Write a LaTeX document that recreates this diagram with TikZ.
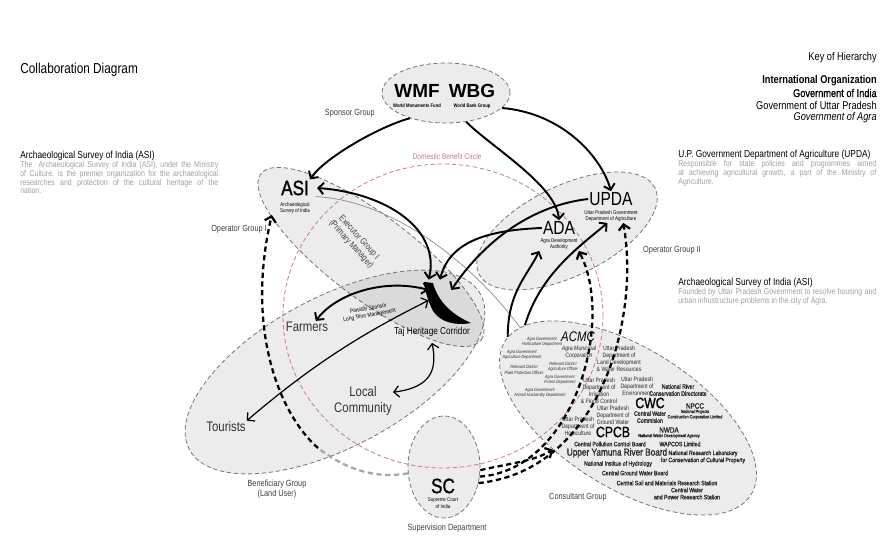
\documentclass[tikz,border=0pt]{standalone}
\usepackage{fontspec}
\setmainfont[FakeStretch=0.82]{Liberation Sans}
\newfontfamily\medfont[FakeStretch=0.82,FakeBold=1.2]{Liberation Sans}
\newfontfamily\plainfont{Liberation Sans}
\usepackage{xcolor}
\usetikzlibrary{shapes.geometric, arrows.meta, positioning, calc}

\definecolor{pinkline}{RGB}{200,120,145}
\definecolor{desctext}{RGB}{160,160,160}
\definecolor{grpline}{RGB}{115,115,115}

\begin{document}
\begin{tikzpicture}[
    x=0.02cm, y=-0.02cm,
    >={Straight Barb[length=3pt,width=6.5pt]},
    grp/.style={ellipse, draw=grpline, dash pattern=on 2.5pt off 1.5pt, line width=0.45pt, fill=black, fill opacity=0.075, inner sep=0},
    arr/.style={->, line width=1.1pt},
    thinarr/.style={<->, line width=0.7pt},
    darr/.style={->, line width=1.3pt, dash pattern=on 3pt off 2pt},
    fadeline/.style={line width=1.3pt, dash pattern=on 3pt off 2pt, black!35},
    thinline/.style={line width=0.4pt, black!45},
    big/.style={font=\fontsize{10.8}{11}\selectfont, inner sep=0.5pt},
    sub/.style={font=\fontsize{3.1}{3.6}\selectfont, align=center, inner sep=0.5pt},
    lbl/.style={font=\fontsize{5.1}{5.9}\selectfont, text=black!75, align=center},
    head/.style={anchor=west, font=\fontsize{5.8}{6.2}\selectfont, inner sep=0},
    desc/.style={anchor=north west, text width=3.96cm, align=justify, font=\fontsize{4.85}{5}\selectfont, text=desctext, inner sep=0},
    small/.style={font=\fontsize{3.6}{4}\selectfont, align=center, inner sep=0.3pt, text=black!85},
    agra/.style={font=\itshape\fontsize{2.6}{3}\selectfont, align=center, inner sep=0.3pt, text=black!85},
    keytxt/.style={anchor=east, font=\fontsize{6.4}{7}\selectfont, inner sep=0}
]
\useasboundingbox (0,0) rectangle (894,547);

% Groups
\node[grp, minimum width=2.56cm, minimum height=1.2cm] (spon) at (446,93) {};
\node[grp, minimum width=5.52cm, minimum height=1.68cm, rotate=-37] (exe) at (371,257) {};
\node[grp, minimum width=3.92cm, minimum height=1.8cm, rotate=26] (ope) at (567,231) {};
\node[grp, minimum width=6.6cm, minimum height=3cm, rotate=28] (ben) at (335,372) {};
\node[grp, minimum width=5.8cm, minimum height=2.8cm, rotate=-32] (cons) at (628,418) {};
\node[grp, minimum width=1.44cm, minimum height=2.04cm] (scg) at (444,467) {};

% Domestic Benefit Circle
\node[ellipse, draw=pinkline, dash pattern=on 2.5pt off 1.5pt, line width=0.45pt, minimum width=6.4cm, minimum height=6.08cm, inner sep=0] (dbc) at (443,316) {};
\node[font=\fontsize{4.6}{5}\selectfont, text=pinkline] (dbclbl) at (447,157) {Domestic Benefit Circle};

% Titles and descriptions
\node[anchor=west, font=\fontsize{8.2}{9}\selectfont, inner sep=0] (title) at (20,70) {Collaboration Diagram};
\node[head] (asihead) at (20,156) {Archaeological Survey of India (ASI)};
\node[desc] (asidesc) at (20,161) {The \ Archaeological Survey of India (ASI), under the Ministry\linebreak of Culture, is the premier organization for the archaeological\linebreak researches and protection of the cultural heritage of the\linebreak nation.};
\node[head] (updahead) at (678,155) {U.P. Government Department of Agriculture (UPDA)};
\node[desc] (updadesc) at (678,160) {Responsible for state policies and programmes aimed\linebreak at achieving agricultural growth, a part of the Ministry of\linebreak Agriculture.};
\node[head] (adahead) at (678,283) {Archaeological Survey of India (ASI)};
\node[desc] (adadesc) at (678,288) {Founded by Uttar Pradesh Government to resolve housing and\linebreak urban infrustructure problems in the city of Agra.};

% Key of Hierarchy
\node[keytxt] (key) at (877,58) {Key of Hierarchy};
\node[keytxt, font=\bfseries\fontsize{6.4}{7}\selectfont] (key1) at (877,81) {International Organization};
\node[keytxt, font=\medfont\fontsize{6.4}{7}\selectfont] (key2) at (877,93) {Government of India};
\node[keytxt] (key3) at (877,105) {Government of Uttar Pradesh};
\node[keytxt, font=\itshape\fontsize{6.4}{7}\selectfont] (key4) at (877,118) {Government of Agra};

% Group labels
\node[lbl, anchor=east] (sponlbl) at (381,113) {Sponsor Group};
\node[lbl, anchor=east] (op1lbl) at (273,229) {Operator Group I};
\node[lbl, anchor=west] (op2lbl) at (637,250) {Operator Group II};
\node[lbl, rotate=-48] (exelbl) at (355,241) {Executor Group I\\(Primary Manager)};
\node[lbl] (benlbl) at (277,489) {Beneficiary Group\\(Land User)};
\node[lbl] (sclbl) at (447,528) {Supervision Department};
\node[lbl] (conslbl) at (578,497) {Consultant Group};

% Sponsors
\node[big, font=\plainfont\bfseries\fontsize{10.8}{11}\selectfont] (wmf) at (417,91) {WMF};
\node[sub, font=\bfseries\fontsize{2.9}{3.2}\selectfont] (wmfsub) at (417,106) {World Monuments Fund};
\node[big, font=\plainfont\bfseries\fontsize{10.8}{11}\selectfont] (wbg) at (472,91) {WBG};
\node[sub, font=\bfseries\fontsize{2.9}{3.2}\selectfont] (wbgsub) at (472,106) {World Bank Group};

% Operators
\node[big, font=\medfont\fontsize{11.9}{12}\selectfont] (asi) at (295,188) {ASI};
\node[sub] (asisub) at (295,208) {Archaeological\\Survey of India};
\node[big] (upda) at (611,199) {UPDA};
\node[sub] (updasub) at (611,216) {Uttar Pradesh Government\\Department of Agriculture};
\node[big] (ada) at (559,228) {ADA};
\node[sub] (adasub) at (559,244) {Agra Development\\Authority};

% Taj Heritage Corridor
\node[inner sep=0, minimum width=0.44cm, minimum height=0.4cm] (tajicon) at (440,290) {};
\fill (424,282) -- (433,283) .. controls (437,298) and (448,313) .. (471,323)
      .. controls (455,326) and (440,322) .. (433,311) .. controls (428,301) and (425,291) .. cycle;
\node[font=\fontsize{5.7}{6}\selectfont] (taj) at (432,332) {Taj Heritage Corridor};

% Beneficiaries
\node[font=\fontsize{7.9}{8.5}\selectfont, text=black!80, inner sep=0.5pt] (farmers) at (307,327) {Farmers};
\node[font=\fontsize{7.9}{8.5}\selectfont, text=black!80, inner sep=0.5pt] (tourists) at (226,427) {Tourists};
\node[font=\fontsize{7.9}{9}\selectfont, text=black!80, align=center, inner sep=0.5pt] (local) at (363,401) {Local\\Community};
\node[font=\fontsize{3.4}{3.9}\selectfont, rotate=10, align=center] (sponlt) at (369,312) {Partially Sponsor\\Long Term Management};

% Supervision
\node[big, font=\medfont\fontsize{11.9}{12}\selectfont] (sc) at (443,486) {SC};
\node[sub] (scsub) at (443,503) {Supreme Court\\of India};

% Consultants
\node[big, font=\itshape\fontsize{7.9}{8}\selectfont] (acmc) at (578,337) {ACMC};
\node[small, font=\itshape\fontsize{3.6}{4}\selectfont] (acmcsub) at (579,352) {Agra Municipal\\Corporation};
\node[agra] (ag1) at (542,342) {Agra Government\\Horticulture Department};
\node[agra] (ag2) at (522,355) {Agra Government\\Agriculture Department};
\node[agra] (ag3) at (524,370) {Relevant District\\Plant Protection Officer};
\node[agra] (ag4) at (563,367) {Relevant District\\Agriculture Officer};
\node[agra] (ag5) at (560,380) {Agra Government\\Forest Department};
\node[agra] (ag6) at (540,393) {Agra Government\\Animal Husbandry Department};
\node[small] (up1) at (619,359) {Uttar Pradesh\\Department of\\Land Development\\\& Water Resources};
\node[small] (up2) at (599,391) {Uttar Pradesh\\Department of\\Irrigation\\\& Flood Control};
\node[small] (up3) at (637,386) {Uttar Pradesh\\Department of\\Environment};
\node[small] (up4) at (613,415) {Uttar Pradesh\\Department of\\Ground Water};
\node[small] (up5) at (578,426) {Uttar Pradesh\\Department of\\Horticulture};
\node[small, font=\medfont\fontsize{3.6}{4}\selectfont] (nrcd) at (678,390) {National River\\Conservation Directorate};
\node[big, font=\medfont\fontsize{8.5}{9}\selectfont] (cwc) at (650,403) {CWC};
\node[small, font=\medfont\fontsize{3.6}{4}\selectfont] (cwcsub) at (650,417) {Central Water\\Commision};
\node[small, font=\medfont\fontsize{4.4}{5}\selectfont] (npcc) at (695,406) {NPCC};
\node[agra, font=\medfont\fontsize{2.6}{3}\selectfont] (npccsub) at (695,414.5) {National Projects\\Construction Corporation Limited};
\node[big, font=\medfont\fontsize{8.5}{9}\selectfont] (cpcb) at (613,432) {CPCB};
\node[small, font=\medfont\fontsize{3.6}{4}\selectfont] (cpcbsub) at (610,444) {Central Pollution Control Board};
\node[small, font=\medfont\fontsize{4.4}{5}\selectfont] (nwda) at (669,430) {NWDA};
\node[agra, font=\medfont\fontsize{2.6}{3}\selectfont] (nwdasub) at (669,436) {National Water Development Agency};
\node[small, font=\medfont\fontsize{3.6}{4}\selectfont] (wapcos) at (680,444) {WAPCOS Limited};
\node[small, font=\medfont\fontsize{5.7}{6}\selectfont] (uyrb) at (617,453) {Upper Yamuna River Board};
\node[small, font=\medfont\fontsize{3.6}{4}\selectfont] (nrl) at (703,457) {National Research Laboratory\\for Conservation of Cultural Property};
\node[small, font=\medfont\fontsize{3.6}{4}\selectfont] (nih) at (618,464) {National Institue of Hydrology};
\node[small, font=\medfont\fontsize{3.6}{4}\selectfont] (cgwb) at (635,473) {Central Ground Water Board};
\node[small, font=\medfont\fontsize{3.6}{4}\selectfont] (csmrs) at (667,483) {Central Soil and Materials Research Station};
\node[small, font=\medfont\fontsize{3.6}{4}\selectfont] (cwprs) at (687,493.5) {Central Water\\and Power Research Station};

% Sponsor arrows
\draw[arr] (spon.215) .. controls +(-30,8) and +(15,-22) .. (asi.north east);
\draw[arr] (spon.-55) .. controls +(25,25) and +(-3,-35) .. (ada.north);
\draw[arr] (spon.-15) .. controls +(60,5) and +(-10,-35) .. (upda.north);

% Operators to Taj
\draw[thinline] ([xshift=3pt]asi.south east) .. controls (390,200) and (470,260) .. (cons.172);
\draw[arr, <->] ([xshift=4pt]asi.east) .. controls +(70,5) and +(12,-50) .. (tajicon.north west);
\draw[arr] (ada.west) .. controls +(-50,2) and +(10,-40) .. (tajicon.north);
\draw[arr] (upda.west) .. controls +(-60,7) and +(30,-45) .. (tajicon.east);

% Consultants to operators
\draw[arr] (cons.178) .. controls +(0,-45) and +(-12,25) .. (adasub.south west);
\draw[arr] (cons.170) .. controls +(15,-50) and +(-30,25) .. ([xshift=-2pt]updasub.south);

% Beneficiaries
\draw[arr, <->] ([xshift=5pt]farmers.north) .. controls +(20,-27) and +(-45,-12) .. (tajicon.west);
\draw[thinarr] (tourists.north east) .. controls +(70,-60) and +(-60,30) .. (tajicon.south west);
\draw[thinarr] ([yshift=5pt]local.east) .. controls +(40,-5) and +(5,25) .. (taj.south);

% Supervision
\coordinate (scfade) at (318,448);
\draw[fadeline] (scg.190) .. controls (370,480) and (340,465) .. (scfade);
\draw[darr] (scfade) .. controls (280,415) and (245,330) .. ([xshift=-4pt]asisub.south west);
\draw[darr] (scg.-5) .. controls +(35,-8) and +(-22,12) .. (cons.235);
\draw[darr] (scg.-15) .. controls (575,470) and (615,320) .. (adasub.south east);
\draw[darr] (scg.-25) .. controls (600,470) and (640,320) .. ([xshift=7pt]updasub.south);

\end{tikzpicture}
\end{document}
